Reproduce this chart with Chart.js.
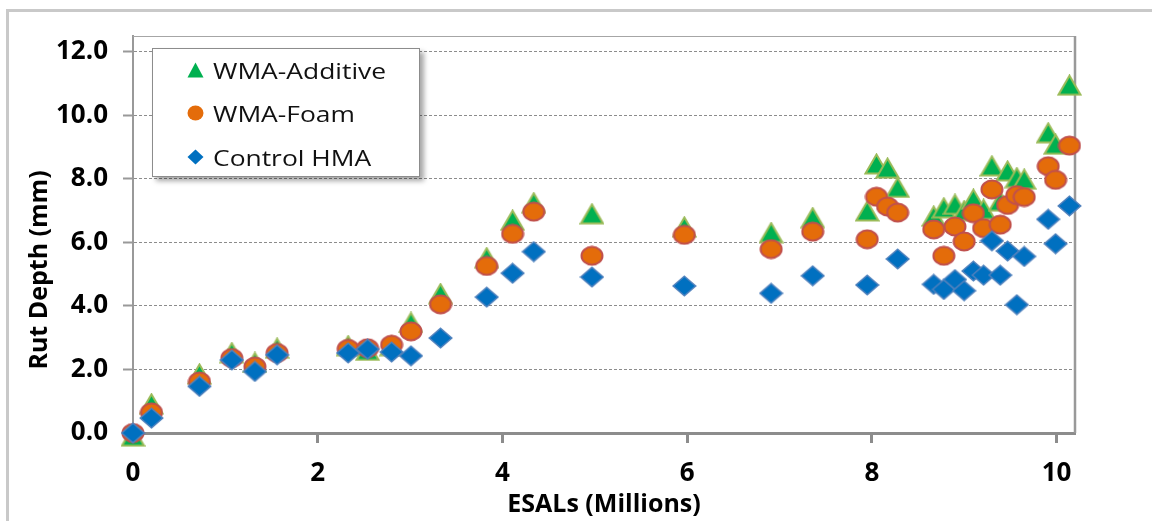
<!DOCTYPE html>
<html>
<head>
<meta charset="utf-8">
<title>Rut Depth vs ESALs</title>
<script src="https://cdn.jsdelivr.net/npm/chart.js@4"></script>
<style>
  html, body { margin: 0; padding: 0; background: #fff; }
  #wrap { position: relative; width: 1152px; height: 521px; overflow: hidden; }
  #frame { position: absolute; left: 6px; top: 9px; width: 1200px; height: 600px;
           border-left: 3px solid #c9c9c9; border-top: 3px solid #c9c9c9; }
  #chart { position: absolute; left: 0; top: 0; }
  #legend { position: absolute; left: 152px; top: 48px; width: 266px; height: 127px;
            background: #fff; border: 1.5px solid #8c8c8c;
            box-shadow: 4px 4px 5px rgba(0,0,0,0.35); }
  .row { position: absolute; left: 0; height: 30px; }
  .row canvas { position: absolute; left: 34px; top: 7px; }
  .row span { position: absolute; left: 60px; top: 0; line-height: 30px; white-space: nowrap;
              font: 22px "Open Sans", sans-serif; color: #111;
              transform: scaleX(1.2); transform-origin: left center; }
</style>
</head>
<body>
<div id="wrap">
  <div id="frame"></div>
  <canvas id="chart" width="1152" height="521"></canvas>
  <div id="legend"></div>
</div>
<script>
'use strict';

// ── Data ────────────────────────────────────────────────────
const esals = [0, 0.2, 0.72, 1.07, 1.32, 1.56, 2.33, 2.54, 2.80, 3.01, 3.33, 3.83,
  4.11, 4.34, 4.97, 5.97, 6.91, 7.36, 7.95, 8.05, 8.17, 8.28, 8.67, 8.78, 8.90, 9.00,
  9.10, 9.21, 9.30, 9.39, 9.47, 9.57, 9.65, 9.91, 9.99, 10.14];

const wmaAdditive = [-0.1, 0.92, 1.86, 2.53, 2.22, 2.67, 2.75, 2.6, 2.75, 3.48, 4.39, 5.52,
  6.70, 7.25, 6.90, 6.49, 6.31, 6.78, 6.99, 8.47, 8.34, 7.73, 6.83, 7.09, 7.20, 7.00,
  7.36, 7.04, 8.41, 7.30, 8.25, 8.04, 7.99, 9.45, 9.09, 10.95];

const wmaFoam = [0, 0.65, 1.62, 2.36, 2.09, 2.52, 2.65, 2.67, 2.78, 3.20, 4.05, 5.26,
  6.27, 6.97, 5.58, 6.24, 5.79, 6.34, 6.10, 7.44, 7.13, 6.94, 6.41, 5.58, 6.50, 6.03,
  6.92, 6.45, 7.67, 6.56, 7.18, 7.49, 7.43, 8.40, 7.97, 9.05];

const controlHma = [0, 0.47, 1.47, 2.30, 1.94, 2.46, 2.52, 2.64, 2.55, 2.43, 2.99, 4.28,
  5.03, 5.71, 4.91, 4.63, 4.40, 4.95, 4.66, null, null, 5.48, 4.68, 4.52, 4.83, 4.48,
  5.10, 4.97, 6.05, 4.97, 5.73, 4.04, 5.56, 6.73, 5.96, 7.15];

const seriesNames = ['WMA-Additive', 'WMA-Foam', 'Control HMA'];

const xTicks = [0, 2, 4, 6, 8, 10];
const xTickLabels = ['0', '2', '4', '6', '8', '10'];
const yTicks = [0, 2, 4, 6, 8, 10, 12];
const yTickLabels = ['0.0', '2.0', '4.0', '6.0', '8.0', '10.0', '12.0'];

// ── Marker sprites (Excel-style filled markers with outline) ─
function makeMarker(kind, w, h, lw) {
  const c = document.createElement('canvas');
  c.width = w; c.height = h;
  const g = c.getContext('2d');
  const p = lw / 2 + 0.5;
  g.beginPath();
  if (kind === 'triangle') {
    g.moveTo(w / 2, p); g.lineTo(w - p, h - p); g.lineTo(p, h - p); g.closePath();
    g.fillStyle = '#00b050'; g.strokeStyle = '#9bbb59';
  } else if (kind === 'circle') {
    g.ellipse(w / 2, h / 2, w / 2 - p, h / 2 - p, 0, 0, Math.PI * 2);
    g.fillStyle = '#e46c0a'; g.strokeStyle = '#c0504d';
  } else {
    g.moveTo(w / 2, p); g.lineTo(w - p, h / 2); g.lineTo(w / 2, h - p); g.lineTo(p, h / 2); g.closePath();
    g.fillStyle = '#0070c0'; g.strokeStyle = '#4f81bd';
  }
  g.fill();
  if (lw > 0) { g.lineWidth = lw; g.stroke(); }
  return c;
}

const markers = {
  triangle: makeMarker('triangle', 25, 22, 2),
  circle:   makeMarker('circle', 24, 21, 2),
  diamond:  makeMarker('diamond', 25, 22, 1.5),
};

function toPoints(ys) {
  return esals.map((x, i) => ({ x, y: ys[i] })).filter(p => p.y !== null);
}

// ── Legend (HTML box with shadow, inside the plot) ──────────
const legendEl = document.getElementById('legend');
[['triangle', 0], ['circle', 1], ['diamond', 2]].forEach(([kind, i]) => {
  const row = document.createElement('div');
  row.className = 'row';
  row.style.top = (6 + i * 43.3) + 'px';
  row.appendChild(makeMarker(kind, 17, 16, 0));
  const s = document.createElement('span');
  s.textContent = seriesNames[i];
  row.appendChild(s);
  legendEl.appendChild(row);
});

// ── Plot frame + axis titles ────────────────────────────────
const framePlugin = {
  id: 'frame',
  beforeDatasetsDraw(chart) {
    const { ctx, chartArea: a } = chart;
    ctx.save();
    ctx.strokeStyle = '#a6a6a6';
    ctx.lineWidth = 1;
    ctx.beginPath(); ctx.moveTo(a.left, a.top + 0.5); ctx.lineTo(a.right, a.top + 0.5); ctx.stroke();
    ctx.strokeStyle = '#999';
    ctx.lineWidth = 2.5;
    ctx.beginPath(); ctx.moveTo(a.right, a.top); ctx.lineTo(a.right, a.bottom); ctx.stroke();
    ctx.restore();
  },
  afterDraw(chart) {
    const { ctx } = chart;
    ctx.save();
    ctx.fillStyle = '#000';
    ctx.font = 'bold 25px "Open Sans"';
    ctx.textAlign = 'center';
    ctx.textBaseline = 'middle';
    ctx.fillText('ESALs (Millions)', 604, 505);
    ctx.translate(40, 270);
    ctx.rotate(-Math.PI / 2);
    ctx.fillText('Rut Depth (mm)', 0, 0);
    ctx.restore();
  }
};

// ── Chart ───────────────────────────────────────────────────
const dsBase = { showLine: false, pointRadius: 11, pointHoverRadius: 11, clip: false };

new Chart(document.getElementById('chart').getContext('2d'), {
  type: 'scatter',
  data: {
    datasets: [
      { ...dsBase, label: seriesNames[2], data: toPoints(controlHma), pointStyle: markers.diamond },
      { ...dsBase, label: seriesNames[1], data: toPoints(wmaFoam),    pointStyle: markers.circle },
      { ...dsBase, label: seriesNames[0], data: toPoints(wmaAdditive), pointStyle: markers.triangle },
    ]
  },
  options: {
    responsive: false,
    animation: false,
    devicePixelRatio: 1,
    layout: { padding: { left: 0, top: 36, right: 77, bottom: 0 } },
    plugins: { legend: { display: false }, tooltip: { enabled: false } },
    scales: {
      x: {
        type: 'linear', min: 0, max: 10.2,
        afterBuildTicks: s => { s.ticks = xTicks.map(v => ({ value: v })); },
        afterFit: s => { s.height = 88; },
        ticks: {
          autoSkip: false, maxRotation: 0, padding: 15,
          color: '#000', font: { family: 'Open Sans', weight: 'bold', size: 26 },
          callback: (v, i) => xTickLabels[i],
        },
        grid: { drawOnChartArea: false, drawTicks: true, tickLength: 10, tickColor: '#8c8c8c', tickWidth: 3 },
        border: { display: true, color: '#8c8c8c', width: 3 },
      },
      y: {
        type: 'linear', min: 0, max: 12.5,
        afterBuildTicks: s => { s.ticks = yTicks.map(v => ({ value: v })); },
        afterFit: s => { s.width = 133; },
        ticks: {
          autoSkip: false, padding: 15,
          color: '#000', font: { family: 'Open Sans', weight: 'bold', size: 26 },
          callback: (v, i) => yTickLabels[i],
        },
        grid: { color: '#8c8c8c', lineWidth: 1, tickLength: 10, tickColor: '#999', tickWidth: 2 },
        border: { display: true, color: '#999', width: 2, dash: [3, 2] },
      }
    }
  },
  plugins: [framePlugin]
});
</script>
</body>
</html>
